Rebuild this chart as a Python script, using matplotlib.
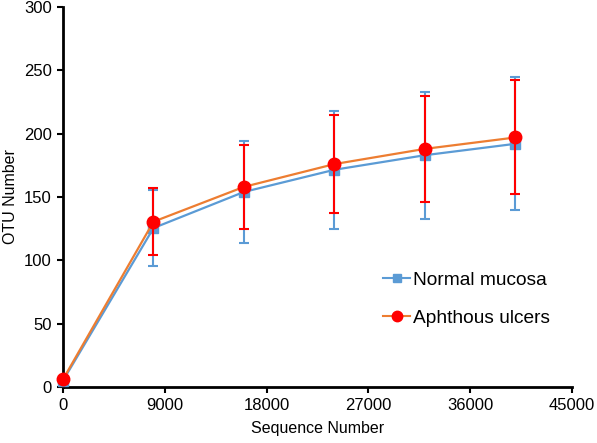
import matplotlib.pyplot as plt
from matplotlib.lines import Line2D
import numpy as np

plt.rcParams['font.family'] = ['Liberation Sans', 'DejaVu Sans']

seq = [0, 8000, 16000, 24000, 32000, 40000]
normal = [5, 125.5, 154, 171.5, 183, 192]
normal_err = [0, 30, 40.5, 46.5, 50, 52.5]
ulcer = [6, 130.5, 158, 176, 188, 197]
ulcer_err = [0, 26.5, 33, 38.5, 42, 45]

blue = '#5B9BD5'
orange = '#ED7D31'
red = '#FF0000'

fig = plt.figure(figsize=(5.97, 4.43), dpi=100)
ax = fig.add_axes([0.1055, 0.1264, 0.8526, 0.8578])

ax.errorbar(seq, normal, yerr=normal_err, color=blue, marker='s', markersize=6.5,
            linewidth=1.6, ecolor=blue, elinewidth=1.5, capsize=3.5, capthick=1.5,
            zorder=3, clip_on=False)
ax.errorbar(seq, ulcer, yerr=ulcer_err, color=orange, marker='o', markersize=9,
            markerfacecolor=red, markeredgecolor=red,
            linewidth=1.6, ecolor=red, elinewidth=1.5, capsize=3.5, capthick=1.5,
            zorder=4, clip_on=False)

ax.set_xlim(0, 45000)
ax.set_ylim(0, 300)
ax.set_xticks(np.arange(0, 45001, 9000))
ax.set_yticks(np.arange(0, 301, 50))
ax.tick_params(labelsize=12, width=1.5, length=4, pad=4)
for s in ['top', 'right']:
    ax.spines[s].set_visible(False)
for s in ['left', 'bottom']:
    ax.spines[s].set_linewidth(2)
ax.set_xlabel('Sequence Number', fontsize=11.5, labelpad=6)
ax.set_ylabel('OTU Number', fontsize=11.5, labelpad=4)

handles = [Line2D([], [], color=blue, marker='s', markersize=6, linewidth=1.5),
           Line2D([], [], color=orange, marker='o', markersize=7.5, linewidth=1.5,
                  markerfacecolor=red, markeredgecolor=red)]
ax.legend(handles, ['Normal mucosa', 'Aphthous ulcers'], loc='upper left',
          bbox_to_anchor=(0.629, 0.305), frameon=False, fontsize=13.8,
          borderpad=0, borderaxespad=0,
          handlelength=1.4, handletextpad=0.15, labelspacing=1.1)

fig.savefig('out.png', dpi=100)
